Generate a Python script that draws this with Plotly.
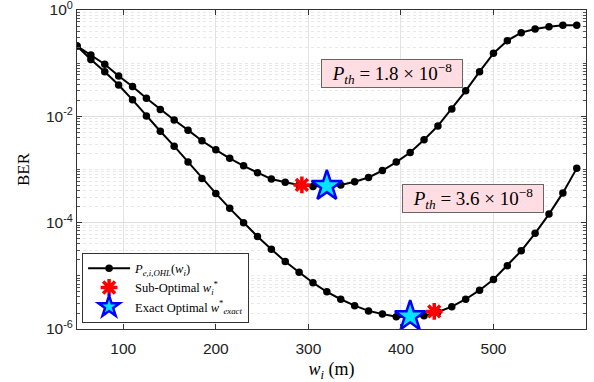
import math
import plotly.graph_objects as go

w_m = [50, 65, 80, 95, 110, 125, 140, 155, 170, 185, 200, 215, 230, 245, 260, 275, 290,
       305, 320, 335, 350, 365, 380, 395, 410, 425, 440, 455, 470, 485, 500, 515, 530,
       545, 560, 575, 590]

ber_pth_18 = [0.210, 0.143, 0.0955, 0.0575, 0.0363, 0.0219, 0.0135, 8.51e-3, 5.50e-3,
              3.47e-3, 2.34e-3, 1.62e-3, 1.17e-3, 8.71e-4, 6.61e-4, 5.75e-4, 5.13e-4,
              4.79e-4, 4.90e-4, 5.13e-4, 5.89e-4, 7.08e-4, 9.55e-4, 1.38e-3, 2.09e-3,
              3.63e-3, 6.61e-3, 0.0138, 0.0302, 0.0692, 0.153, 0.265, 0.375, 0.440,
              0.486, 0.515, 0.515]

ber_pth_36 = [0.210, 0.117, 0.0692, 0.0389, 0.0204, 0.0102, 5.25e-3, 2.75e-3, 1.38e-3,
              6.76e-4, 3.55e-4, 1.86e-4, 1.00e-4, 5.50e-5, 3.16e-5, 1.86e-5, 1.17e-5,
              7.41e-6, 5.01e-6, 3.63e-6, 2.75e-6, 2.19e-6, 1.91e-6, 1.70e-6, 1.66e-6,
              1.78e-6, 2.09e-6, 2.63e-6, 3.63e-6, 5.37e-6, 8.51e-6, 1.55e-5, 2.95e-5,
              6.31e-5, 1.45e-4, 3.63e-4, 1.05e-3]

sub_opt_w = [293, 436]
sub_opt_ber = [5.13e-4, 2.14e-6]
exact_opt_w = [320, 410]
exact_opt_ber = [4.90e-4, 1.74e-6]

x_ticks = [100, 200, 300, 400, 500]
y_ticks = [1e-6, 1e-4, 1e-2, 1]
y_tick_text = ["10<sup>-6</sup>", "10<sup>-4</sup>", "10<sup>-2</sup>", "10<sup>0</sup>"]
y_minor = [m * 10.0 ** e for e in range(-6, 0) for m in range(1, 10)]

pth_labels = ["<i>P</i><sub><i>th</i></sub> = 1.8 × 10<sup>−8</sup>",
              "<i>P</i><sub><i>th</i></sub> = 3.6 × 10<sup>−8</sup>"]
pth_label_w = [390, 478]
pth_label_ber = [10 ** -1.20, 10 ** -3.55]

SERIF = "Liberation Serif, DejaVu Serif, serif"
SANS = "Liberation Sans, Arial, sans-serif"

fig = go.Figure()
line_style = dict(color="black", width=2)
marker_style = dict(symbol="circle", size=7.5, color="black")
fig.add_trace(go.Scatter(x=w_m, y=ber_pth_18, mode="lines+markers", line=line_style,
                         marker=marker_style,
                         name="<i>P</i><sub><i>e,i,OHL</i></sub>(<i>w</i><sub><i>i</i></sub>)"))
fig.add_trace(go.Scatter(x=w_m, y=ber_pth_36, mode="lines+markers", line=line_style,
                         marker=marker_style, showlegend=False))
fig.add_trace(go.Scatter(x=sub_opt_w, y=sub_opt_ber, mode="markers",
                         marker=dict(symbol="asterisk-open", size=14, color="red",
                                     line=dict(color="red", width=3.5)),
                         name="Sub-Optimal <i>w</i><sub><i>i</i></sub><sup>*</sup>"))
fig.add_trace(go.Scatter(x=exact_opt_w, y=exact_opt_ber, mode="markers",
                         marker=dict(symbol="star", size=23, color="#00E5FF",
                                     line=dict(color="blue", width=2.5)),
                         name="Exact Optimal <i>w</i><sup>*</sup><sub><i>exact</i></sub>"))

for txt, ax_, ay_ in zip(pth_labels, pth_label_w, pth_label_ber):
    fig.add_annotation(x=ax_, y=math.log10(ay_), yref="y", xref="x", text=txt,
                       showarrow=False, width=136, height=23,
                       font=dict(family=SERIF, size=19, color="black"),
                       bgcolor="#FFDDE2", bordercolor="#666666", borderwidth=1,
                       borderpad=2)

fig.update_xaxes(range=[50, 600], tickvals=x_ticks, showgrid=True, gridcolor="#E3E3E3",
                 gridwidth=1, ticks="inside", ticklen=5, tickcolor="#333333",
                 showline=True, linecolor="#333333", linewidth=1, mirror="ticks",
                 zeroline=False, automargin=False, ticklabelstandoff=5,
                 tickfont=dict(family=SANS, size=15.5, color="#222222"),
                 title=dict(text="<i>w</i><sub><i>i</i></sub> (m)",
                            font=dict(family=SERIF, size=18, color="black"), standoff=10))
fig.update_yaxes(type="log", range=[-6, 0], tickvals=y_ticks, ticktext=y_tick_text,
                 showgrid=True, gridcolor="#DDDDDD", gridwidth=1,
                 ticks="inside", ticklen=5, tickcolor="#333333",
                 showline=True, linecolor="#333333", linewidth=1, mirror="ticks",
                 zeroline=False, automargin=False, ticklabeloverflow="allow",
                 minor=dict(tickmode="array", tickvals=y_minor, showgrid=True,
                            gridcolor="#E8E8E8", griddash="dot", gridwidth=1,
                            ticks="inside", ticklen=3, tickcolor="#555555"),
                 tickfont=dict(family=SANS, size=15.5, color="#222222"),
                 title=dict(text="BER", font=dict(family=SERIF, size=17, color="black"),
                            standoff=12))

fig.update_layout(width=594, height=382, margin=dict(l=77, r=8, t=10, b=53),
                  plot_bgcolor="white", paper_bgcolor="white",
                  legend=dict(x=0.01, y=0.02, xanchor="left", yanchor="bottom",
                              bgcolor="white", bordercolor="#333333", borderwidth=1,
                              font=dict(family=SERIF, size=12.5, color="black"),
                              tracegroupgap=0, itemwidth=42),
                  showlegend=True)

fig.write_html("out.html", config={"displayModeBar": False},
               post_script="document.body.style.margin='0';document.body.style.padding='0';")
